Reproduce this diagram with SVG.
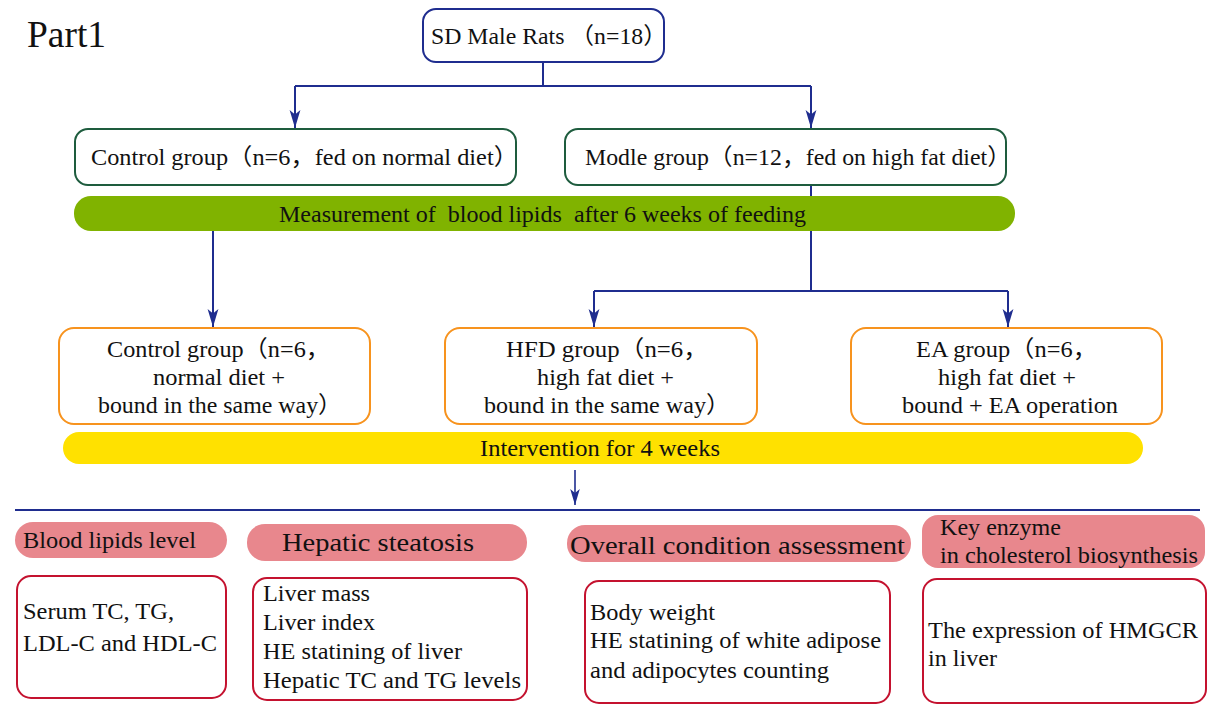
<svg xmlns="http://www.w3.org/2000/svg" width="1214" height="706" viewBox="0 0 1214 706" font-family="Liberation Serif, Times New Roman, serif">
<style>
text{fill:#111;font-size:23px}
.b{font-size:24px}
.k{font-family:"Noto Sans CJK SC",sans-serif}
.blue{fill:#fff;stroke:#1f2d8f;stroke-width:2}
.green{fill:#fff;stroke:#1e5c3e;stroke-width:2}
.orange{fill:#fff;stroke:#f7931e;stroke-width:2}
.red{fill:#fff;stroke:#c4122f;stroke-width:2}
.pink{fill:#e8878d}
.conn{fill:none;stroke:#1f2d8f;stroke-width:2}
</style>
<defs>
<marker id="ah" markerUnits="userSpaceOnUse" markerWidth="18" markerHeight="12" viewBox="0 0 20 12" refX="20" refY="6" orient="auto">
<path d="M0,0 L20,6 L0,12 L5,6 z" fill="#1f2d8f"/>
</marker>
<marker id="ah2" markerUnits="userSpaceOnUse" markerWidth="16" markerHeight="10" viewBox="0 0 20 12" refX="20" refY="6" orient="auto">
<path d="M0,0 L20,6 L0,12 L5,6 z" fill="#1f2d8f"/>
</marker>
</defs>
<rect width="1214" height="706" fill="#fff"/>
<text x="27" y="47" style="font-size:37px" textLength="79" lengthAdjust="spacingAndGlyphs">Part1</text>
<g id="connectors">
<path class="conn" d="M543,62 V86 M295,86 H811"/>
<path class="conn" d="M295,86 V128" marker-end="url(#ah)"/>
<path class="conn" d="M811,86 V128" marker-end="url(#ah)"/>
<path class="conn" d="M213,231 V327" marker-end="url(#ah)"/>
<path class="conn" d="M811,185 V291 M594,291 H1008"/>
<path class="conn" d="M594,291 V327" marker-end="url(#ah)"/>
<path class="conn" d="M1008,291 V327" marker-end="url(#ah)"/>
<path class="conn" d="M575,470 V505" marker-end="url(#ah2)" style="stroke-width:1.6"/>
<path class="conn" d="M15,510 H1200"/>
</g>
<g id="rats">
<rect class="blue" x="423" y="9" width="241" height="53" rx="13"/>
<text x="431" y="44" xml:space="preserve" textLength="236" lengthAdjust="spacingAndGlyphs">SD Male Rats <tspan class="k">（</tspan>n=18<tspan class="k">）</tspan></text>
</g>
<g id="control1">
<rect class="green" x="75" y="129" width="441" height="56" rx="13"/>
<text x="91" y="165" textLength="427" lengthAdjust="spacingAndGlyphs">Control group<tspan class="k">（</tspan>n=6<tspan class="k">，</tspan>fed on normal diet<tspan class="k">）</tspan></text>
</g>
<g id="modle">
<rect class="green" x="565" y="129" width="441" height="56" rx="13"/>
<text x="585" y="165" textLength="426" lengthAdjust="spacingAndGlyphs">Modle group<tspan class="k">（</tspan>n=12<tspan class="k">，</tspan>fed on high fat diet<tspan class="k">）</tspan></text>
</g>
<g id="measure">
<rect x="74" y="196" width="941" height="35" rx="17" fill="#80b300"/>
<text x="279" y="222" xml:space="preserve" textLength="527" lengthAdjust="spacingAndGlyphs">Measurement of  blood lipids  after 6 weeks of feeding</text>
</g>
<g id="control2">
<rect class="orange" x="59" y="328" width="311" height="96" rx="15"/>
<text x="107" y="357" textLength="223" lengthAdjust="spacingAndGlyphs">Control group<tspan class="k">（</tspan>n=6<tspan class="k">，</tspan></text>
<text x="153" y="385" textLength="132" lengthAdjust="spacingAndGlyphs">normal diet +</text>
<text x="98" y="413" textLength="244" lengthAdjust="spacingAndGlyphs">bound in the same way<tspan class="k">）</tspan></text>
</g>
<g id="hfd">
<rect class="orange" x="445" y="328" width="312" height="96" rx="15"/>
<text x="506" y="357" textLength="202" lengthAdjust="spacingAndGlyphs">HFD group<tspan class="k">（</tspan>n=6<tspan class="k">，</tspan></text>
<text x="537" y="385" textLength="137" lengthAdjust="spacingAndGlyphs">high fat diet +</text>
<text x="484" y="413" textLength="246" lengthAdjust="spacingAndGlyphs">bound in the same way<tspan class="k">）</tspan></text>
</g>
<g id="ea">
<rect class="orange" x="851" y="328" width="311" height="96" rx="15"/>
<text x="916" y="357" textLength="181" lengthAdjust="spacingAndGlyphs">EA group<tspan class="k">（</tspan>n=6<tspan class="k">，</tspan></text>
<text x="938" y="385" textLength="138" lengthAdjust="spacingAndGlyphs">high fat diet +</text>
<text x="902" y="413" textLength="216" lengthAdjust="spacingAndGlyphs">bound + EA operation</text>
</g>
<g id="intervention">
<rect x="63" y="432" width="1080" height="32" rx="16" fill="#ffe100"/>
<text x="480" y="456" textLength="240" lengthAdjust="spacingAndGlyphs">Intervention for 4 weeks</text>
</g>
<g id="h1">
<rect class="pink" x="15" y="522" width="212" height="36" rx="18"/>
<text x="23" y="548" class="b" textLength="173" lengthAdjust="spacingAndGlyphs">Blood lipids level</text>
</g>
<g id="h2">
<rect class="pink" x="247" y="524" width="280" height="37" rx="18"/>
<text x="282" y="551" style="font-size:25px" textLength="192" lengthAdjust="spacingAndGlyphs">Hepatic steatosis</text>
</g>
<g id="h3">
<rect class="pink" x="567" y="525" width="344" height="37" rx="18"/>
<text x="570" y="554" style="font-size:25px" textLength="335" lengthAdjust="spacingAndGlyphs">Overall condition assessment</text>
</g>
<g id="h4">
<rect class="pink" x="922" y="515" width="283" height="53" rx="16"/>
<text x="940" y="535" class="b" textLength="121" lengthAdjust="spacingAndGlyphs">Key enzyme</text>
<text x="940" y="563" class="b" textLength="258" lengthAdjust="spacingAndGlyphs">in cholesterol biosynthesis</text>
</g>
<g id="b1">
<rect class="red" x="17" y="576" width="209" height="122" rx="14"/>
<text x="23" y="619" class="b" textLength="151" lengthAdjust="spacingAndGlyphs">Serum TC, TG,</text>
<text x="23" y="651" class="b" textLength="194" lengthAdjust="spacingAndGlyphs">LDL-C and HDL-C</text>
</g>
<g id="b2">
<rect class="red" x="253" y="578" width="274" height="122" rx="14"/>
<text x="263" y="601" class="b" textLength="107" lengthAdjust="spacingAndGlyphs">Liver mass</text>
<text x="263" y="630" class="b" textLength="112" lengthAdjust="spacingAndGlyphs">Liver index</text>
<text x="263" y="659" class="b" textLength="199" lengthAdjust="spacingAndGlyphs">HE statining of liver</text>
<text x="263" y="688" class="b" textLength="258" lengthAdjust="spacingAndGlyphs">Hepatic TC and TG levels</text>
</g>
<g id="b3">
<rect class="red" x="585" y="581" width="305" height="122" rx="14"/>
<text x="590" y="620" class="b" textLength="125" lengthAdjust="spacingAndGlyphs">Body weight</text>
<text x="590" y="648" class="b" textLength="291" lengthAdjust="spacingAndGlyphs">HE statining of white adipose</text>
<text x="590" y="678" class="b" textLength="239" lengthAdjust="spacingAndGlyphs">and adipocytes counting</text>
</g>
<g id="b4">
<rect class="red" x="923" y="579" width="283" height="124" rx="14"/>
<text x="928" y="638" class="b" textLength="270" lengthAdjust="spacingAndGlyphs">The expression of HMGCR</text>
<text x="928" y="666" class="b" textLength="69" lengthAdjust="spacingAndGlyphs">in liver</text>
</g>
</svg>
